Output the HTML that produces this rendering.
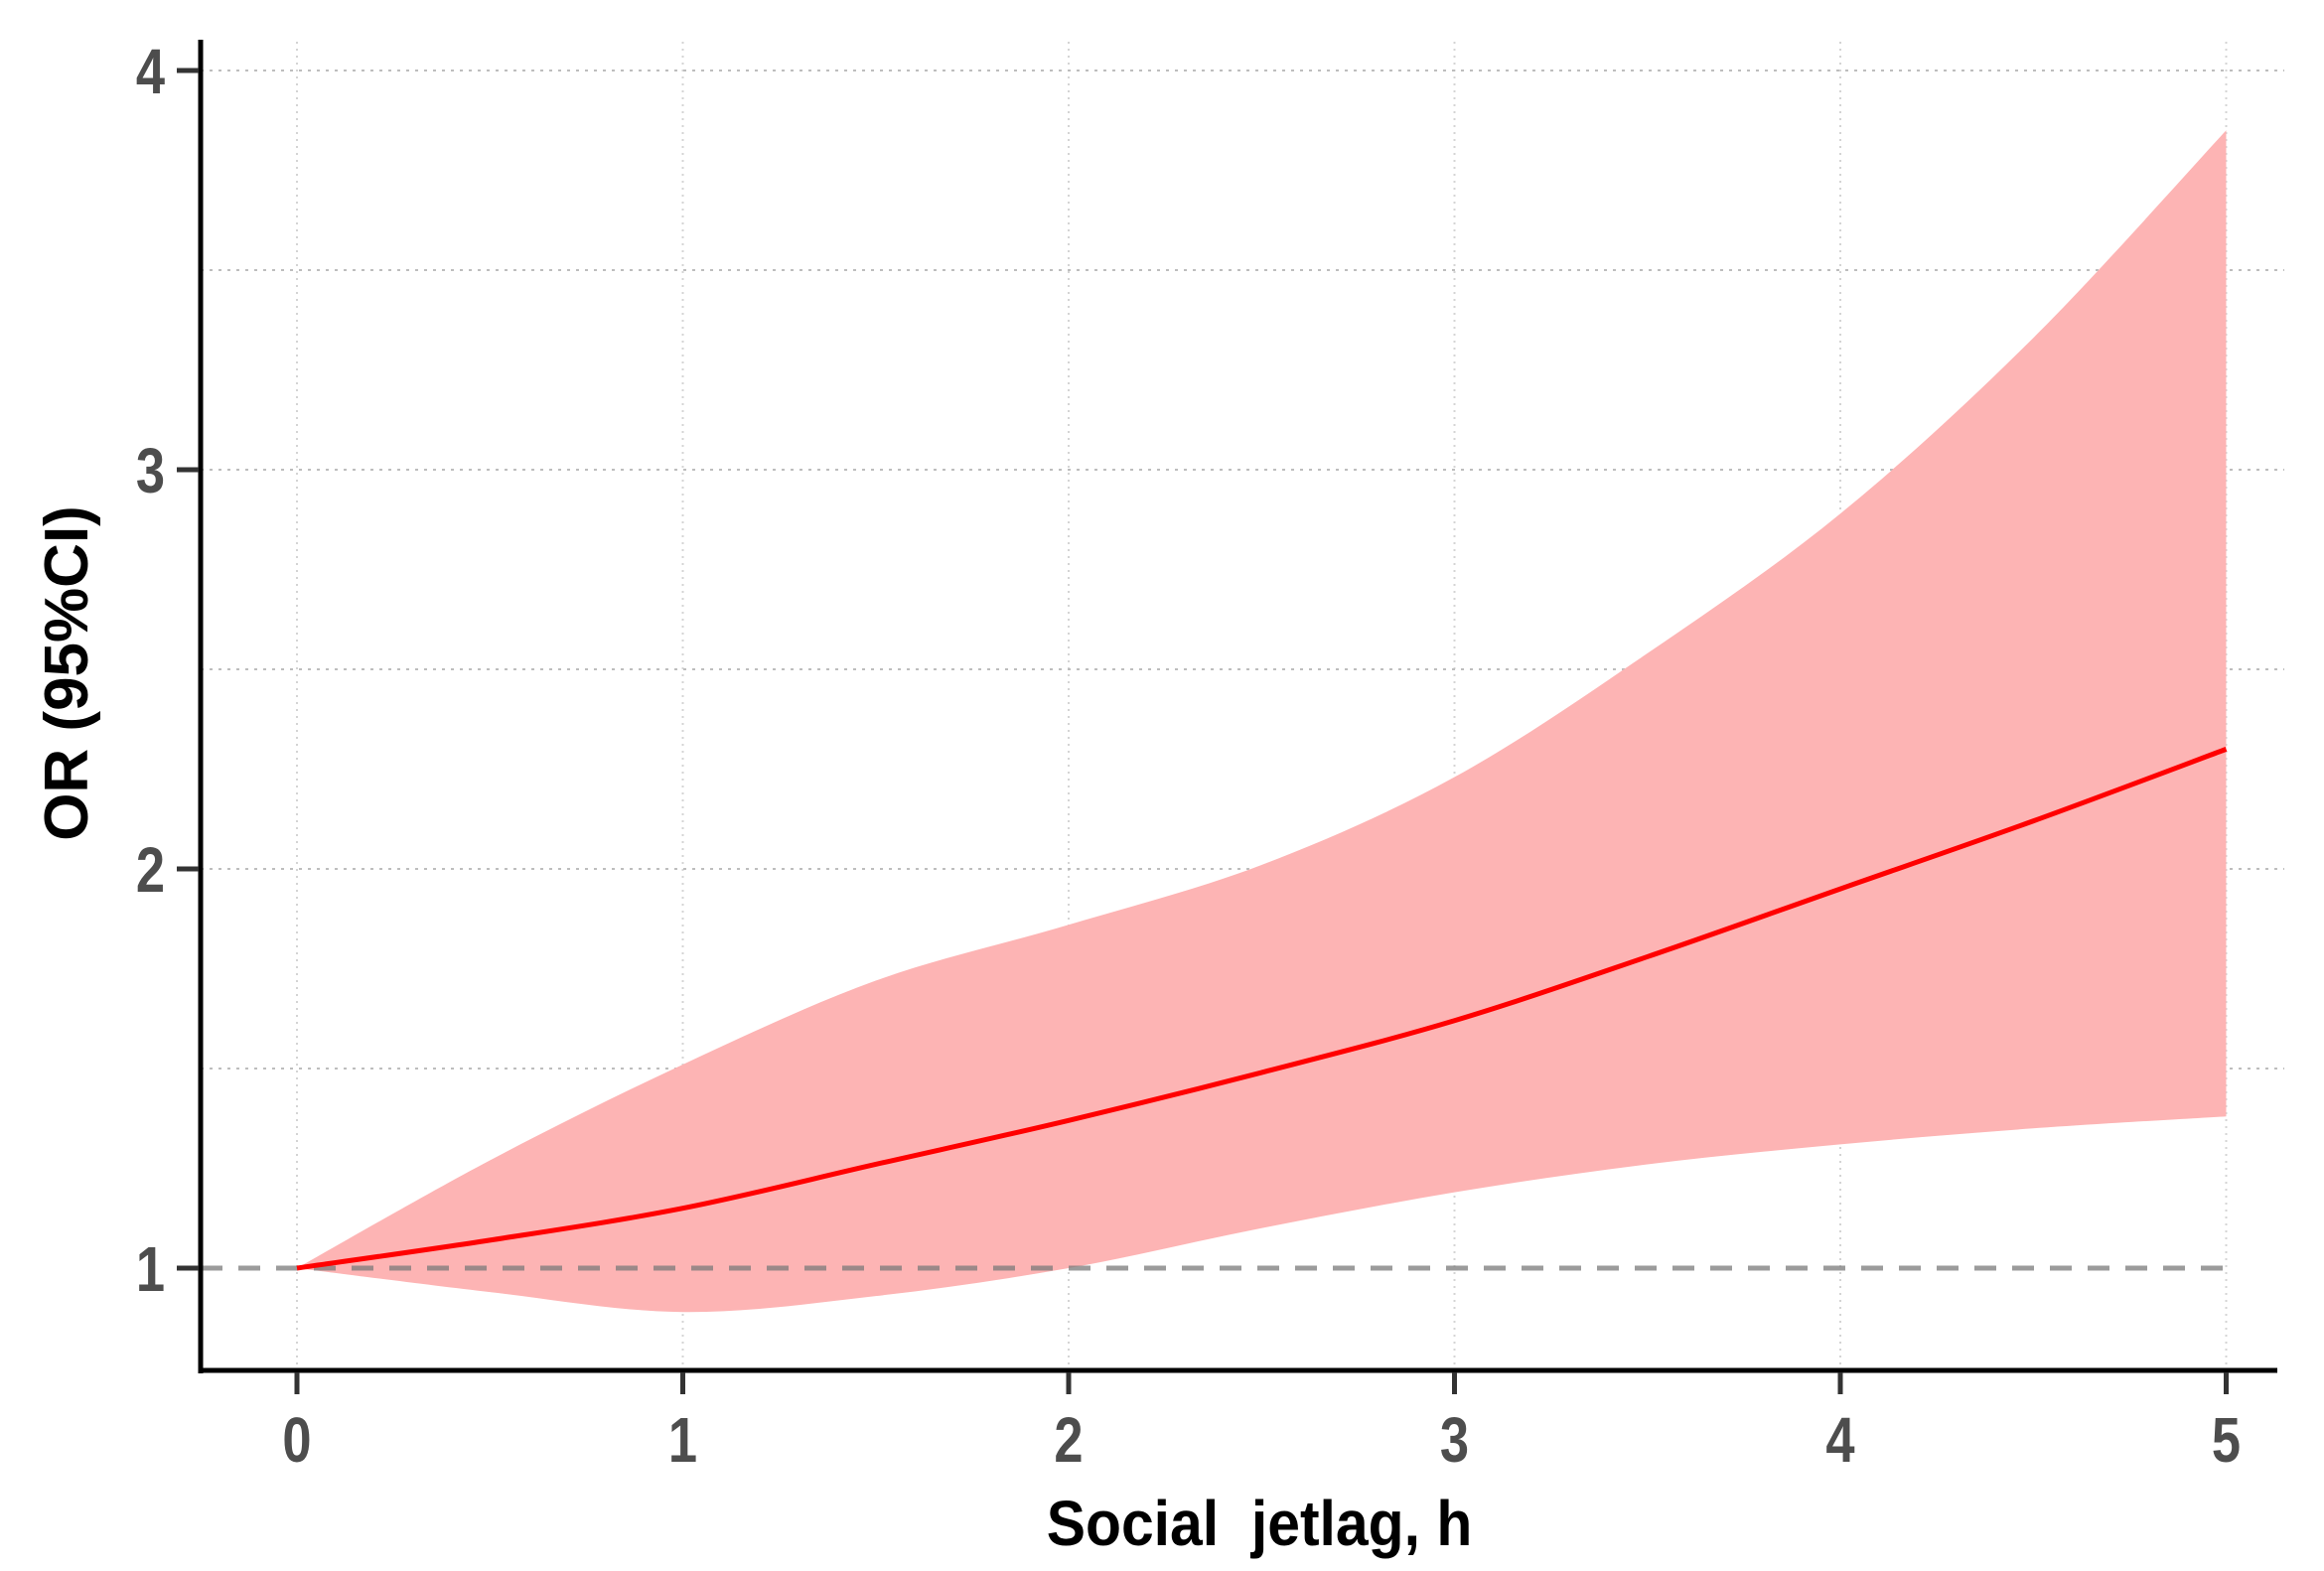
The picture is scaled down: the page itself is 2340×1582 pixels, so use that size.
<!DOCTYPE html>
<html><head><meta charset="utf-8"><style>
html,body{margin:0;padding:0;background:#fff;}
svg{display:block;font-family:"Liberation Sans",Arial,sans-serif;}
text{white-space:pre;}
</style></head><body>
<svg id="chart" width="2340" height="1582" viewBox="0 0 2340 1582"></svg>
<script>
const xs = [0,0.5,1,1.5,2,2.5,3,3.5,4,4.5,5];
const orVals = [1,1.07,1.15,1.26,1.37,1.49,1.62,1.78,1.95,2.12,2.30];
const upperVals = [1,1.27,1.51,1.72,1.86,2.01,2.23,2.54,2.89,3.33,3.85];
const lowerVals = [1,0.94,0.89,0.93,1.0,1.10,1.19,1.26,1.31,1.35,1.38];
const xTicks = [0,1,2,3,4,5];
const yTicks = [1,2,3,4];
const yMinor = [1.5,2.5,3.5];

const NS="http://www.w3.org/2000/svg";
const svg=document.getElementById('chart');
const X0=299, XU=388.5, Y1=1277, YU=402;
function sx(v){return X0+v*XU;}
function sy(v){return Y1-(v-1)*YU;}
function mk(tag,attrs,parent){const e=document.createElementNS(NS,tag);for(const k in attrs)e.setAttribute(k,attrs[k]);(parent||svg).appendChild(e);return e;}
function smooth(pts){let d=`M${pts[0][0]},${pts[0][1]}`;for(let i=0;i<pts.length-1;i++){const p0=pts[i-1]||pts[i],p1=pts[i],p2=pts[i+1],p3=pts[i+2]||p2;const c1=[p1[0]+(p2[0]-p0[0])/6,p1[1]+(p2[1]-p0[1])/6],c2=[p2[0]-(p3[0]-p1[0])/6,p2[1]-(p3[1]-p1[1])/6];d+=` C${c1[0]},${c1[1]} ${c2[0]},${c2[1]} ${p2[0]},${p2[1]}`;}return d;}

// grid
xTicks.forEach(t=>{const g=mk('line',{x1:sx(t),x2:sx(t),y1:42,y2:1378,stroke:'#d4d4d4','stroke-width':2,'stroke-dasharray':'2 5'});

});
yTicks.concat(yMinor).forEach(t=>{if(t===1)return;const g=mk('line',{x1:202,x2:2300,y1:sy(t),y2:sy(t),stroke:'#bdbdbd','stroke-width':2,'stroke-dasharray':'3 6'});

});

// band
const up=xs.map((x,i)=>[sx(x),sy(upperVals[i])]);
const lo=xs.map((x,i)=>[sx(x),sy(lowerVals[i])]).reverse();
const band=mk('path',{d:smooth(up)+' L'+smooth(lo).slice(1)+' Z',fill:'#fdb4b4',stroke:'none'});



// reference line
const ref=mk('line',{x1:202,x2:sx(5),y1:sy(1),y2:sy(1),stroke:'#7a7a7a','stroke-opacity':0.75,'stroke-width':5,'stroke-dasharray':'22 16'});



// OR line
const ln=mk('path',{d:smooth(xs.map((x,i)=>[sx(x),sy(orVals[i])])),fill:'none',stroke:'#ff0000','stroke-width':5});



// axes
const ya=mk('line',{x1:202,x2:202,y1:40,y2:1383,stroke:'#000','stroke-width':5});


const xa=mk('line',{x1:200,x2:2293,y1:1380,y2:1380,stroke:'#000','stroke-width':5});



xTicks.forEach(t=>{
const tk=mk('line',{x1:sx(t),x2:sx(t),y1:1382,y2:1404,stroke:'#333','stroke-width':5});


const tx=mk('text',{x:0,y:0,'text-anchor':'middle','font-size':64,'font-weight':'bold',fill:'#4d4d4d',transform:`translate(${sx(t)},1472) scale(0.82,1)`});
tx.textContent=t;

});
yTicks.forEach(t=>{
const tk=mk('line',{x1:178,x2:200,y1:sy(t),y2:sy(t),stroke:'#333','stroke-width':5});


const tx=mk('text',{x:0,y:0,'text-anchor':'end','font-size':64,'font-weight':'bold',fill:'#4d4d4d',transform:`translate(166,${sy(t)+23}) scale(0.82,1)`});
tx.textContent=t;

});

const xt=mk('text',{x:0,y:0,'text-anchor':'middle','font-size':64,'font-weight':'bold',fill:'#000',transform:'translate(1268,1556) scale(0.92,1)'});
xt.textContent='Social  jetlag, h';


const yt=mk('text',{x:0,y:0,'text-anchor':'middle','font-size':62,'font-weight':'bold',fill:'#000',transform:'translate(88,678) rotate(-90)'});
yt.textContent='OR (95%CI)';


</script>
</body></html>
